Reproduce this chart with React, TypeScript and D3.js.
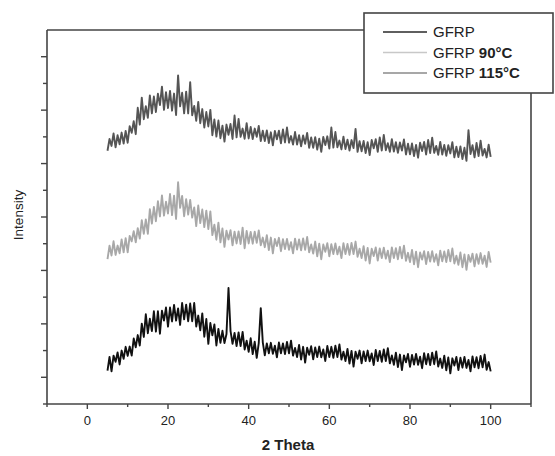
import React from "react";
import * as d3 from "d3";

// 2θ sampling grid: 5° to 100° at 0.5° steps
const twoTheta: number[] = d3.range(5, 100.001, 0.5);

const seriesNames = ["GFRP", "GFRP 115°C", "GFRP 90°C"];

// GFRP 115°C (top, dark gray)
const gfrp115: number[] = [
  9.48, 9.92, 9.66, 10.13, 9.61, 10.06, 9.72, 10.16, 9.75, 10.22,
  9.78, 10.40, 10.15, 10.59, 10.10, 11.09, 10.46, 11.47, 10.66, 11.15,
  10.71, 11.55, 10.88, 11.51, 10.93, 11.62, 11.19, 11.88, 11.01, 11.67,
  11.08, 11.72, 10.98, 11.62, 10.82, 12.30, 11.14, 11.65, 10.88, 11.69,
  10.88, 12.05, 10.81, 11.16, 10.60, 11.31, 10.51, 11.04, 10.35, 10.93,
  10.39, 11.01, 10.06, 10.65, 10.01, 10.61, 9.95, 10.42, 9.82, 10.46,
  10.08, 10.48, 9.92, 10.80, 9.98, 10.67, 10.00, 10.31, 9.93, 10.51,
  9.94, 10.37, 9.92, 10.31, 10.00, 10.41, 9.84, 10.23, 9.84, 10.24,
  9.77, 10.17, 9.68, 10.22, 9.91, 10.23, 9.76, 10.28, 9.79, 10.35,
  9.78, 10.03, 9.71, 10.18, 9.71, 10.06, 9.65, 10.05, 9.74, 10.15,
  9.59, 9.98, 9.59, 9.99, 9.52, 9.93, 9.44, 10.00, 9.69, 10.02,
  9.56, 10.35, 9.60, 10.18, 9.61, 9.86, 9.53, 10.01, 9.54, 9.89,
  9.49, 9.88, 9.58, 10.30, 9.44, 9.84, 9.46, 9.85, 9.39, 9.80,
  9.32, 9.88, 9.57, 9.91, 9.44, 9.98, 9.49, 10.07, 9.50, 9.76,
  9.44, 9.91, 9.45, 9.80, 9.40, 9.79, 9.49, 9.90, 9.34, 9.74,
  9.35, 9.75, 9.28, 9.70, 9.22, 9.78, 9.47, 9.81, 9.34, 9.88,
  9.39, 9.97, 9.40, 9.66, 9.33, 9.81, 9.34, 9.70, 9.29, 9.69,
  9.38, 9.80, 9.23, 9.63, 9.24, 9.64, 9.17, 9.59, 9.10, 10.25,
  9.36, 9.69, 9.23, 9.77, 9.28, 9.86, 9.30, 9.55, 9.23, 9.71,
  9.25,
];

// GFRP 90°C (middle, light gray)
const gfrp90: number[] = [
  5.42, 5.93, 5.56, 6.09, 5.58, 5.93, 5.64, 6.16, 5.68, 6.21,
  5.68, 6.29, 6.09, 6.47, 6.05, 6.58, 6.19, 6.88, 6.37, 6.91,
  6.37, 7.29, 6.75, 7.38, 6.84, 7.59, 7.02, 7.81, 7.05, 7.57,
  7.13, 7.86, 7.07, 7.80, 6.93, 8.30, 7.34, 7.79, 7.03, 7.67,
  7.09, 7.64, 6.98, 7.36, 6.66, 7.43, 6.77, 7.28, 6.62, 7.24,
  6.55, 7.21, 6.32, 6.71, 6.15, 6.79, 6.05, 6.57, 5.88, 6.49,
  6.16, 6.51, 5.94, 6.45, 6.01, 6.46, 5.99, 6.60, 5.83, 6.48,
  6.01, 6.44, 6.00, 6.45, 6.03, 6.50, 5.94, 6.23, 5.87, 6.32,
  5.76, 6.23, 5.64, 6.18, 5.91, 6.22, 5.72, 6.17, 5.80, 6.18,
  5.77, 6.06, 5.64, 6.19, 5.78, 6.16, 5.75, 6.20, 5.77, 6.25,
  5.68, 5.97, 5.63, 6.08, 5.53, 6.00, 5.42, 5.97, 5.70, 6.02,
  5.53, 5.98, 5.61, 6.01, 5.60, 5.89, 5.46, 6.02, 5.61, 5.99,
  5.58, 6.03, 5.61, 6.08, 5.51, 5.81, 5.46, 5.91, 5.37, 5.84,
  5.26, 5.81, 5.54, 5.86, 5.37, 5.82, 5.46, 5.85, 5.44, 5.74,
  5.31, 5.86, 5.46, 5.83, 5.42, 5.88, 5.45, 5.93, 5.36, 5.66,
  5.31, 5.77, 5.23, 5.70, 5.12, 5.67, 5.41, 5.72, 5.24, 5.69,
  5.33, 5.72, 5.32, 5.61, 5.19, 5.74, 5.34, 5.71, 5.31, 5.77,
  5.34, 5.82, 5.26, 5.55, 5.21, 5.67, 5.12, 5.60, 5.02, 5.58,
  5.32, 5.63, 5.15, 5.61, 5.25, 5.65, 5.25, 5.55, 5.13, 5.69,
  5.29,
];

// GFRP (bottom, black)
const gfrp: number[] = [
  1.25, 1.76, 1.22, 1.81, 1.58, 1.93, 1.48, 2.00, 1.69, 2.14,
  1.80, 2.15, 1.81, 2.45, 2.12, 2.58, 2.19, 3.01, 2.51, 3.36,
  2.65, 3.19, 2.73, 3.47, 2.71, 3.47, 2.63, 3.49, 3.12, 3.61,
  2.90, 3.61, 3.09, 3.71, 3.12, 3.58, 2.96, 3.78, 3.17, 3.72,
  3.10, 3.76, 3.10, 3.78, 2.90, 3.31, 2.76, 3.39, 2.52, 3.18,
  2.25, 3.03, 2.57, 2.98, 2.19, 2.81, 2.29, 2.74, 2.28, 2.62,
  4.34, 2.74, 2.25, 2.66, 2.17, 2.68, 2.17, 2.70, 2.04, 2.37,
  1.95, 2.46, 1.87, 2.33, 1.73, 2.28, 3.59, 2.31, 1.82, 2.27,
  1.90, 2.29, 1.88, 2.18, 1.75, 2.30, 1.90, 2.27, 1.87, 2.32,
  1.90, 2.37, 1.81, 2.10, 1.76, 2.21, 1.66, 2.14, 1.55, 2.11,
  1.84, 2.16, 1.67, 2.12, 1.76, 2.15, 1.75, 2.04, 1.61, 2.17,
  1.76, 2.14, 1.73, 2.18, 1.76, 2.23, 1.66, 1.96, 1.61, 2.06,
  1.51, 1.99, 1.40, 1.96, 1.69, 2.00, 1.52, 1.97, 1.61, 2.00,
  1.60, 1.89, 1.46, 2.02, 1.61, 1.99, 1.58, 2.04, 1.61, 2.09,
  1.52, 1.82, 1.47, 1.92, 1.38, 1.85, 1.27, 1.82, 1.56, 1.87,
  1.39, 1.84, 1.48, 1.87, 1.47, 1.77, 1.34, 1.90, 1.49, 1.87,
  1.46, 1.92, 1.49, 1.97, 1.40, 1.70, 1.35, 1.81, 1.26, 1.74,
  1.15, 1.71, 1.44, 1.76, 1.27, 1.73, 1.36, 1.76, 1.35, 1.65,
  1.22, 1.78, 1.37, 1.75, 1.34, 1.80, 1.37, 1.85, 1.28, 1.57,
  1.22,
];

const xMajorTicks = [0, 20, 40, 60, 80, 100];
const xMinorTicks = [-10, 10, 30, 50, 70, 90, 110];
const yTicks = d3.range(0, 14, 1);

const W = 555;
const H = 456;
const left = 47;
const right = 531;
const top = 30;
const bottom = 404;

export default function App() {
  const x = d3.scaleLinear().domain([-10, 110]).range([left, right]);
  const y = d3.scaleLinear().domain([0, 14]).range([bottom, top]);

  const line = (vals: number[]) =>
    d3
      .line<number>()
      .x((_, i) => x(twoTheta[i]))
      .y((v) => y(v))(vals) as string;

  const series = [
    { name: seriesNames[1], vals: gfrp115, color: "#555555" },
    { name: seriesNames[2], vals: gfrp90, color: "#a8a8a8" },
    { name: seriesNames[0], vals: gfrp, color: "#111111" },
  ];

  const axisColor = "#444";
  const font = "'Liberation Sans', Arial, sans-serif";

  const legendItems = [
    { label: "GFRP", bold: "", color: "#2a2a2a" },
    { label: "GFRP", bold: "90°C", color: "#c8c8c8" },
    { label: "GFRP", bold: "115°C", color: "#8a8a8a" },
  ];

  return (
    <svg
      width={W}
      height={H}
      style={{ position: "absolute", left: 0, top: 0, background: "#fff" }}
    >
      <rect x={0} y={0} width={W} height={H} fill="#fff" />
      {series.map((s) => (
        <path
          key={s.name}
          d={line(s.vals)}
          fill="none"
          stroke={s.color}
          strokeWidth={1.9}
          strokeLinejoin="round"
        />
      ))}

      {/* frame */}
      <line x1={left} x2={right} y1={bottom} y2={bottom} stroke={axisColor} strokeWidth={1.6} />
      <line x1={left} x2={left} y1={top} y2={bottom} stroke={axisColor} strokeWidth={1.6} />
      <line x1={left} x2={364} y1={top} y2={top} stroke={axisColor} strokeWidth={1.6} />
      <line x1={right} x2={right} y1={93} y2={bottom} stroke={axisColor} strokeWidth={1.6} />

      {/* x ticks */}
      {xMajorTicks.map((t) => (
        <g key={"M" + t}>
          <line x1={x(t)} x2={x(t)} y1={bottom} y2={bottom + 5} stroke={axisColor} strokeWidth={1.4} />
          <text
            x={x(t)}
            y={425}
            textAnchor="middle"
            fontFamily={font}
            fontSize={13}
            fill="#222"
          >
            {t}
          </text>
        </g>
      ))}
      {xMinorTicks.map((t) => (
        <line key={"m" + t} x1={x(t)} x2={x(t)} y1={bottom} y2={bottom + 3} stroke={axisColor} strokeWidth={1.4} />
      ))}

      {/* y ticks */}
      {yTicks.map((t) => (
        <line
          key={"y" + t}
          x1={left}
          x2={left - (t % 2 === 1 ? 6 : 4)}
          y1={y(t)}
          y2={y(t)}
          stroke={axisColor}
          strokeWidth={1.4}
        />
      ))}

      <text
        x={288}
        y={450}
        textAnchor="middle"
        fontFamily={font}
        fontSize={15}
        fontWeight="bold"
        fill="#222"
      >
        2 Theta
      </text>
      <text
        transform={`translate(23, 215) rotate(-90)`}
        textAnchor="middle"
        fontFamily={font}
        fontSize={13.5}
        fill="#222"
      >
        Intensity
      </text>

      {/* legend */}
      <rect x={364} y={13} width={189} height={80} fill="#fff" stroke={axisColor} strokeWidth={1.6} />
      {legendItems.map((it, i) => {
        const ly = 32 + i * 20.5;
        return (
          <g key={i}>
            <line x1={383} x2={427} y1={ly} y2={ly} stroke={it.color} strokeWidth={1.5} />
            <text x={433} y={ly + 5} fontFamily={font} fontSize={15} fill="#222">
              {it.label}
              {it.bold ? (
                <tspan fontWeight="bold">{" " + it.bold}</tspan>
              ) : null}
            </text>
          </g>
        );
      })}
    </svg>
  );
}
